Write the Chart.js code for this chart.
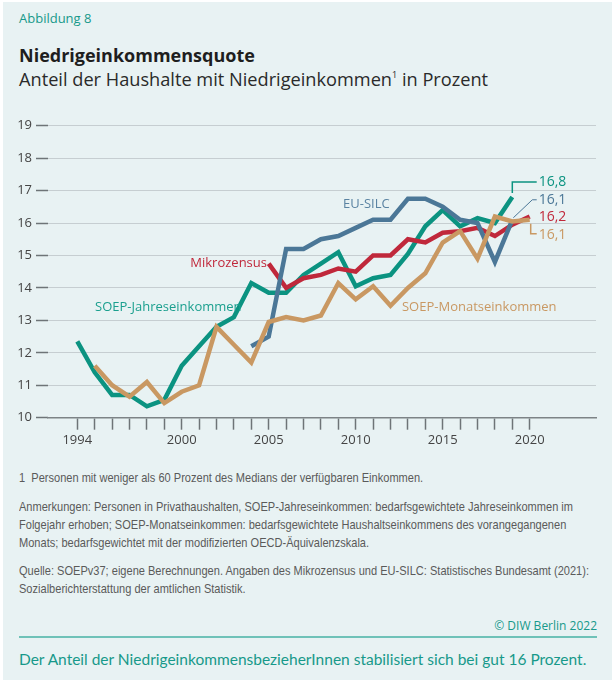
<!DOCTYPE html>
<html>
<head>
<meta charset="utf-8">
<script src="https://cdn.jsdelivr.net/npm/chart.js@4"></script>
<style>
  body { margin: 0; background: #fff; width: 614px; height: 680px; position: relative; overflow: hidden; }
  .panel { position: absolute; left: 3px; top: 2px; width: 609px; height: 678px; background: #e8f2f3; }
  .t { position: absolute; white-space: nowrap; font-family: "Open Sans", sans-serif; }
  #kicker { left: 19px; top: 9px; font-size: 13px; color: #17998a; }
  #title { left: 19px; top: 43px; font-size: 18px; font-weight: 700; color: #1e1e1e; }
  #subtitle { left: 19px; top: 67px; font-size: 18.2px; color: #2a2a2a; }
  #subtitle sup { font-size: 9px; vertical-align: 8px; }
  .note { position: absolute; left: 19px; font-family: "Liberation Sans", sans-serif; font-size: 13px; color: #5a5a5a; line-height: 18px; white-space: nowrap; transform: scaleX(0.85); transform-origin: left top; }
  #copy { right: 17px; top: 617px; font-size: 12px; color: #17998a; }
  #rule { position: absolute; left: 19px; top: 636px; width: 578px; height: 2px; background: #6fc2b8; }
  #bottom { left: 19px; top: 650px; font-size: 15.5px; color: #17998a; font-family: Lato, sans-serif; }
  #wrap { position: absolute; left: 0; top: 100px; width: 614px; height: 360px; }
</style>
</head>
<body>
<div class="panel"></div>
<div class="t" id="kicker">Abbildung 8</div>
<div class="t" id="title">Niedrigeinkommensquote</div>
<div class="t" id="subtitle">Anteil der Haushalte mit Niedrigeinkommen<sup>1</sup> in Prozent</div>
<div id="wrap"><canvas id="myChart"></canvas></div>
<div class="note" style="top:469px">1&nbsp;&nbsp;Personen mit weniger als 60 Prozent des Medians der verfügbaren Einkommen.</div>
<div class="note" style="top:498px">Anmerkungen: Personen in Privathaushalten, SOEP-Jahreseinkommen: bedarfsgewichtete Jahreseinkommen im<br>Folgejahr erhoben; SOEP-Monatseinkommen: bedarfsgewichtete Haushaltseinkommens des vorangegangenen<br>Monats; bedarfsgewichtet mit der modifizierten OECD-Äquivalenzskala.</div>
<div class="note" style="top:562px">Quelle: SOEPv37; eigene Berechnungen. Angaben des Mikrozensus und EU-SILC: Statistisches Bundesamt (2021):<br>Sozialberichterstattung der amtlichen Statistik.</div>
<div class="t" id="copy">© DIW Berlin 2022</div>
<div id="rule"></div>
<div class="t" id="bottom">Der Anteil der NiedrigeinkommensbezieherInnen stabilisiert sich bei gut 16 Prozent.</div>

<script>
// Daten
const jahreYears = [1994, 1995, 1996, 1997, 1998, 1999, 2000, 2001, 2002, 2003, 2004, 2005, 2006, 2007, 2008, 2009, 2010, 2011, 2012, 2013, 2014, 2015, 2016, 2017, 2018, 2019]
const soepJahres = [12.35, 11.4, 10.7, 10.7, 10.35, 10.55, 11.6, 12.2, 12.8, 13.1, 14.15, 13.85, 13.85, 14.4, 14.75, 15.1, 14.05, 14.3, 14.4, 15.05, 15.9, 16.4, 15.9, 16.15, 16.0, 16.8]

const monatsYears = [1995, 1996, 1997, 1998, 1999, 2000, 2001, 2002, 2003, 2004, 2005, 2006, 2007, 2008, 2009, 2010, 2011, 2012, 2013, 2014, 2015, 2016, 2017, 2018, 2019, 2020]
const soepMonats = [11.6, 11.0, 10.65, 11.1, 10.45, 10.8, 11.0, 12.8, 12.25, 11.7, 12.95, 13.1, 13.0, 13.15, 14.15, 13.65, 14.05, 13.45, 14.0, 14.45, 15.4, 15.75, 14.9, 16.2, 16.05, 16.1]

const silcYears = [2004, 2005, 2006, 2007, 2008, 2009, 2010, 2011, 2012, 2013, 2014, 2015, 2016, 2017, 2018, 2019]
const euSilc = [12.2, 12.5, 15.2, 15.2, 15.5, 15.6, 15.85, 16.1, 16.1, 16.75, 16.75, 16.5, 16.1, 16.0, 14.8, 16.1]

const mzYears = [2005, 2006, 2007, 2008, 2009, 2010, 2011, 2012, 2013, 2014, 2015, 2016, 2017, 2018, 2019, 2020]
const mikrozensus = [14.75, 14.0, 14.3, 14.4, 14.6, 14.5, 15.0, 15.0, 15.5, 15.4, 15.7, 15.75, 15.85, 15.6, 15.95, 16.2]

const tickYears = [1994, 1995, 1996, 1997, 1998, 1999, 2000, 2001, 2002, 2003, 2004, 2005, 2006, 2007, 2008, 2009, 2010, 2011, 2012, 2013, 2014, 2015, 2016, 2017, 2018, 2019, 2020]
const labelYears = [1994, 2000, 2005, 2010, 2015, 2020]
const yTicks = [10, 11, 12, 13, 14, 15, 16, 17, 18, 19]

const TEAL = '#0b9381'
const TAN = '#c99862'
const BLUE = '#4b7797'
const RED = '#c0283b'

const pts = (xs, ys) => xs.map((x, i) => ({ x, y: ys[i] }))
const fmt = v => v.toFixed(1).replace('.', ',')

// Serienbeschriftungen
const lineLabels = [
    { text: 'SOEP-Jahreseinkommen', x: 1995.02, y: 13.41, align: 'left', color: '#1a9f8e' },
    { text: 'Mikrozensus', x: 2004.9, y: 14.77, align: 'right', color: '#c0283b' },
    { text: 'EU-SILC', x: 2009.27, y: 16.59, align: 'left', color: '#5a83a2' },
    { text: 'SOEP-Monatseinkommen', x: 2012.66, y: 13.41, align: 'left', color: '#c99862' }
]

const labelPlugin = {
    id: 'labels',
    afterDatasetsDraw(chart) {
        const { ctx, scales: { x, y } } = chart
        ctx.save()
        ctx.textBaseline = 'middle'
        ctx.font = '13px "Open Sans", sans-serif'
        lineLabels.forEach(l => {
            ctx.fillStyle = l.color
            ctx.textAlign = l.align
            ctx.fillText(l.text, x.getPixelForValue(l.x), y.getPixelForValue(l.y))
        })

        // Endwerte mit Hinweislinien
        const ends = [
            { ds: 0, dy: -15, color: TEAL, leader: 'up' },
            { ds: 2, dy: -20, color: BLUE, leader: 'diag' },
            { ds: 3, dy: 0, color: RED, leader: null },
            { ds: 1, dy: 15, color: TAN, leader: 'down' }
        ]
        const tx = x.getPixelForValue(2020) + 9
        ctx.font = '14px "Open Sans", sans-serif'
        ctx.textAlign = 'left'
        ends.forEach(e => {
            const data = chart.data.datasets[e.ds].data
            const last = data[data.length - 1]
            const px = x.getPixelForValue(last.x)
            const py = y.getPixelForValue(last.y)
            const ly = py + e.dy
            ctx.strokeStyle = e.color
            ctx.beginPath()
            if (e.leader === 'up') {
                ctx.lineWidth = 1.5
                ctx.moveTo(px, py - 4)
                ctx.lineTo(px, ly)
                ctx.lineTo(tx - 2, ly)
            } else if (e.leader === 'diag') {
                ctx.lineWidth = 1
                ctx.moveTo(px + 1, py - 2)
                ctx.lineTo(px + 20, ly)
                ctx.lineTo(tx - 2, ly)
            } else if (e.leader === 'down') {
                ctx.lineWidth = 1.5
                ctx.moveTo(px + 1, py + 4)
                ctx.lineTo(px + 1, ly - 1)
                ctx.lineTo(tx - 2, ly - 1)
            }
            ctx.stroke()
            ctx.fillStyle = e.color
            ctx.fillText(fmt(last.y), tx, ly)
        })
        ctx.restore()
    }
}

const lineDs = (label, data, color, order) => ({
    label, data, borderColor: color, backgroundColor: color,
    borderWidth: 4.5, pointRadius: 0, tension: 0, order
})

new Chart(document.getElementById('myChart'), {
    type: 'line',
    data: {
        datasets: [
            lineDs('SOEP-Jahreseinkommen', pts(jahreYears, soepJahres), TEAL, 3),
            lineDs('SOEP-Monatseinkommen', pts(monatsYears, soepMonats), TAN, 0),
            lineDs('EU-SILC', pts(silcYears, euSilc), BLUE, 1),
            lineDs('Mikrozensus', pts(mzYears, mikrozensus), RED, 2)
        ]
    },
    options: {
        responsive: true,
        maintainAspectRatio: false,
        animation: false,
        layout: { padding: { top: 25.7, right: 18, left: 0, bottom: 0 } },
        plugins: { legend: { display: false }, tooltip: { enabled: false } },
        scales: {
            x: {
                type: 'linear',
                min: 1992.316,
                max: 2023.81,
                afterBuildTicks: s => { s.ticks = tickYears.map(v => ({ value: v })) },
                afterFit: s => { s.height = 42.3 },
                grid: { drawOnChartArea: false, drawTicks: true, tickLength: 12, tickColor: '#6e7477', tickWidth: 1.5 },
                border: { display: true, color: '#7d8386', width: 1.5 },
                ticks: {
                    autoSkip: false, maxRotation: 0, padding: 3,
                    color: '#444', font: { family: 'Open Sans', size: 13 },
                    callback: v => labelYears.includes(v) ? String(v) : ''
                }
            },
            y: {
                min: 10,
                max: 19,
                afterBuildTicks: s => { s.ticks = yTicks.map(v => ({ value: v })) },
                afterFit: s => { s.width = 48 },
                grid: { color: '#c6ced1', lineWidth: 1, tickLength: 12, tickColor: '#6e7477', tickWidth: 1.5 },
                border: { display: false },
                ticks: { padding: 4, color: '#444', font: { family: 'Open Sans', size: 13 } }
            }
        }
    },
    plugins: [labelPlugin]
})
</script>
</body>
</html>
